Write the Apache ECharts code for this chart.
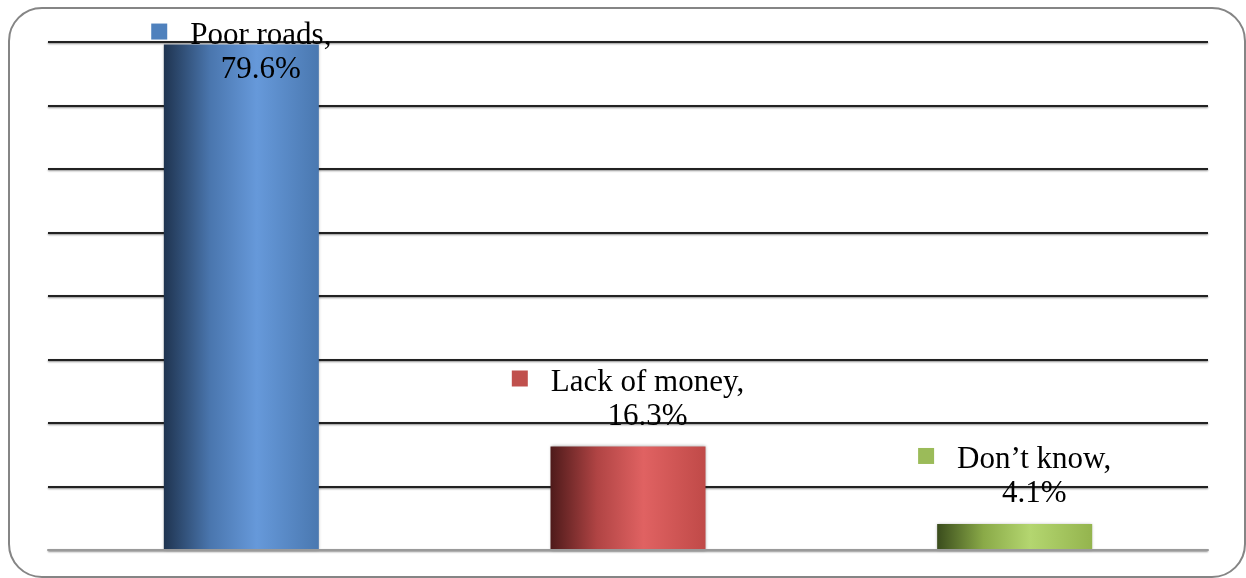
<!DOCTYPE html>
<html>
<head>
<meta charset="utf-8">
<script src="https://cdn.jsdelivr.net/npm/echarts@6/dist/echarts.min.js"></script>
<style>
html,body{margin:0;padding:0;background:#fff;}
#frame{position:absolute;left:8px;top:7px;width:1238px;height:571px;border:2px solid #858585;border-radius:34px;box-sizing:border-box;}
#chart{position:absolute;left:0;top:0;width:1246px;height:578px;}
</style>
</head>
<body>
<div id="frame"></div>
<div id="chart"></div>
<script>
const categories = ['Poor roads', 'Lack of money', 'Don\u2019t know'];
const values = [79.6, 16.3, 4.1];
const baseColors = ['#4f81bd', '#c0504d', '#9bbb59'];
const gradStops = [
  ['#1f3450', '#4a76ae', '#6699da', '#4a78b0'],
  ['#4e1a1a', '#b04444', '#e06262', '#c04a48'],
  ['#3a4c1c', '#8aaa48', '#b4d670', '#94b44e']
];

const chart = echarts.init(document.getElementById('chart'));

function grad(s) {
  return new echarts.graphic.LinearGradient(0, 0, 1, 0, [
    {offset: 0, color: s[0]},
    {offset: 0.3, color: s[1]},
    {offset: 0.6, color: s[2]},
    {offset: 1, color: s[3]}
  ]);
}

const rich = {
  gap: {width: 23, fontSize: 31, lineHeight: 24},
  name: {fontFamily: 'Liberation Serif', fontSize: 31, color: '#000', lineHeight: 24},
  pad: {width: 39, fontSize: 31, lineHeight: 44},
  val: {fontFamily: 'Liberation Serif', fontSize: 31, color: '#000', lineHeight: 44}
};
baseColors.forEach((c, i) => {
  rich['sq' + i] = {width: 16, height: 16, backgroundColor: c, lineHeight: 24, verticalAlign: 'top'};
});

const data = values.map((v, i) => {
  const item = {
    value: v,
    itemStyle: {color: grad(gradStops[i]), shadowColor: 'rgba(0,0,0,0.35)', shadowBlur: 3}
  };
  if (i === 0) item.label = {offset: [0, 55]};
  return item;
});

chart.setOption({
  animation: false,
  grid: {left: 48, right: 38, top: 42, bottom: 28},
  xAxis: {
    type: 'category',
    data: categories,
    z: 3,
    axisLine: {show: true, lineStyle: {color: '#9a9a9a', width: 2}},
    axisTick: {show: false},
    axisLabel: {show: false}
  },
  yAxis: {
    type: 'value',
    min: 0,
    max: 80,
    interval: 10,
    axisLine: {show: false},
    axisTick: {show: false},
    axisLabel: {show: false},
    splitLine: {lineStyle: {color: '#222', width: 2, shadowColor: 'rgba(0,0,0,0.45)', shadowBlur: 2, shadowOffsetY: 1}}
  },
  series: [{
    type: 'bar',
    data: data,
    barWidth: 155,
    label: {
      show: true,
      position: 'top',
      distance: 8,
      align: 'center',
      formatter: p => '{sq' + p.dataIndex + '| }{gap| }{name|' + categories[p.dataIndex] + ',}\n{pad| }{val|' + values[p.dataIndex] + '%}',
      rich: rich
    }
  }]
});
</script>
</body>
</html>
